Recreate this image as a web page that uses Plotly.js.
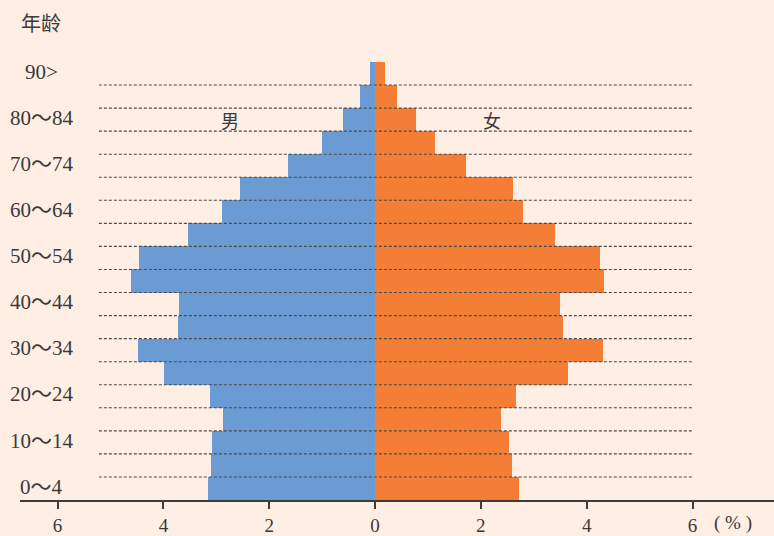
<!DOCTYPE html>
<html>
<head>
<meta charset="utf-8">
<script src="https://cdn.plot.ly/plotly-3.0.1.min.js"></script>
<style>html,body{margin:0;padding:0;background:#feeee3;}</style>
</head>
<body>
<div id="chart" style="width:774px;height:536px;"></div>
<script>
// Age groups from youngest to oldest
const ages = ["0～4","5～9","10～14","15～19","20～24","25～29","30～34","35～39","40～44","45～49",
              "50～54","55～59","60～64","65～69","70～74","75～79","80～84","85～89","90>"];
// Share of population (%)
const male   = [3.16,3.10,3.08,2.87,3.12,3.99,4.48,3.72,3.71,4.61,4.46,3.53,2.89,2.55,1.64,1.01,0.60,0.28,0.09];
const female = [2.72,2.59,2.53,2.38,2.66,3.65,4.31,3.55,3.49,4.33,4.25,3.40,2.80,2.61,1.71,1.13,0.77,0.41,0.19];
const xTickVals = [-6,-4,-2,0,2,4,6];
const xTickText = ["6","4","2","0","2","4","6"];

const idx = ages.map((a,i)=>i);
const serif = "Liberation Serif, 'Noto Sans CJK SC', serif";
const cjk = "'Noto Sans CJK SC', sans-serif";
const txt = "#3a3a3a";

const traces = [
  {type:'bar', orientation:'h', y: idx, x: male.map(v=>-v), marker:{color:'#6a9cd3', line:{width:0}}, hoverinfo:'skip'},
  {type:'bar', orientation:'h', y: idx, x: female, marker:{color:'#f47e36', line:{width:0}}, hoverinfo:'skip'}
];

const shapes = [];
for (let i = 0; i < ages.length - 1; i++) {
  shapes.push({type:'line', xref:'x', yref:'y', x0:-5.22, x1:6.01, y0:i+0.5, y1:i+0.5,
               layer:'above', line:{color:'#4a4a4a', width:1.1, dash:'3px,2px'}});
}

const annotations = [];
ages.forEach((a,i)=>{
  if (i % 2 === 0) {
    annotations.push({xref:'paper', yref:'y', x:0.029, y:i + 0.08, text:a, showarrow:false,
      xanchor:'center', yanchor:'middle', font:{family:serif, size:21, color:txt}});
  }
});
annotations.push({xref:'paper', yref:'paper', x:0.028, y:1.091, text:'年龄', showarrow:false,
  xanchor:'center', yanchor:'middle', font:{family:cjk, size:20, color:txt}});
annotations.push({xref:'x', yref:'y', x:-2.74, y:16, text:'男', showarrow:false,
  xanchor:'center', yanchor:'middle', font:{family:cjk, size:18, color:txt}});
annotations.push({xref:'x', yref:'y', x:2.21, y:16, text:'女', showarrow:false,
  xanchor:'center', yanchor:'middle', font:{family:cjk, size:18, color:txt}});
annotations.push({xref:'x', yref:'paper', x:6.36, y:-0.0815, text:'( % )', showarrow:false,
  xanchor:'left', yanchor:'bottom', font:{family:serif, size:19, color:txt}});

const layout = {
  width:774, height:536,
  margin:{l:20, r:0, t:62, b:36, pad:0},
  paper_bgcolor:'#feeee3', plot_bgcolor:'#feeee3',
  barmode:'overlay', bargap:0,
  showlegend:false,
  xaxis:{range:[-6.71,7.54], tickvals:xTickVals, ticktext:xTickText,
    showgrid:false, zeroline:false, showline:true, linecolor:'#3c3c3c', linewidth:2,
    ticks:'outside', ticklen:7, tickwidth:2, tickcolor:'#3c3c3c',
    tickfont:{family:serif, size:19, color:txt}, fixedrange:true},
  yaxis:{range:[-0.5,18.5], showticklabels:false, showgrid:false, zeroline:false, showline:false, fixedrange:true},
  shapes:shapes,
  annotations:annotations
};

Plotly.newPlot('chart', traces, layout, {displayModeBar:false, staticPlot:true});
</script>
</body>
</html>
